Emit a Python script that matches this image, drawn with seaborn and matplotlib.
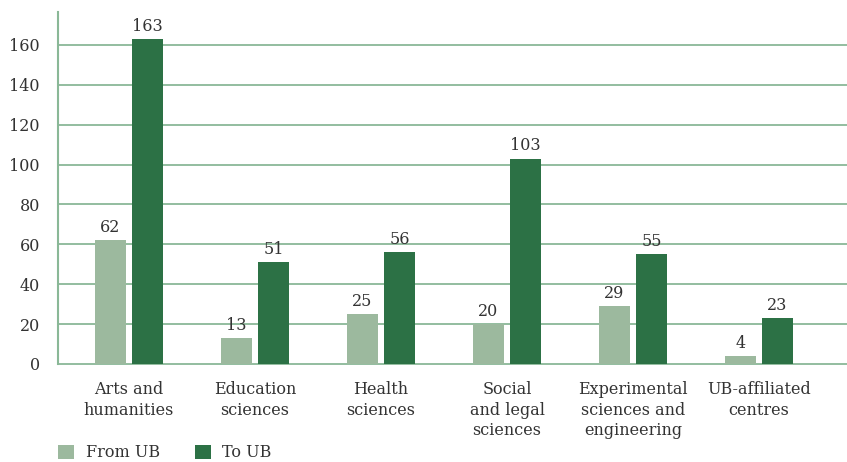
import pandas as pd
import numpy as np
from matplotlib import pyplot as plt
import seaborn as sns

# chart data
categories = ['Arts and\nhumanities', 'Education\nsciences', 'Health\nsciences',
              'Social\nand legal\nsciences', 'Experimental\nsciences and\nengineering',
              'UB-affiliated\ncentres']
from_ub = [62, 13, 25, 20, 29, 4]
to_ub = [163, 51, 56, 103, 55, 23]
series = ['From UB', 'To UB']
yticks = [0, 20, 40, 60, 80, 100, 120, 140, 160]

light = '#9cb99e'
dark = '#2c7145'
grid = '#8ab897'
text = '#333333'

sns.set_style('white')
plt.rcParams['font.family'] = ['DejaVu Serif']
plt.rcParams['font.size'] = 11.5

df = pd.DataFrame({
    'category': categories * 2,
    'value': from_ub + to_ub,
    'series': [series[0]] * len(categories) + [series[1]] * len(categories),
})

fig = plt.figure(figsize=(8.47, 4.62), dpi=100)
ax = fig.add_axes([58 / 847, 1 - 364 / 462, 1 - 58 / 847, 352 / 462])

sns.barplot(data=df, x='category', y='value', hue='series', order=categories,
            hue_order=series, palette=[light, dark], width=0.587, gap=0.16,
            saturation=1, linewidth=0, ax=ax, legend=True)

for c in ax.containers:
    ax.bar_label(c, padding=3, fontsize=11.5, color=text)

ax.set_ylim(0, 176.5)
ax.set_xlim(-0.563, 5.698)
ax.set_yticks(yticks)
ax.yaxis.grid(True, color=grid, linewidth=1.3)
ax.set_axisbelow(True)
for gl in ax.yaxis.get_gridlines():
    gl.set_clip_on(False)
ax.set_xlabel('')
ax.set_ylabel('')

for s in ['top', 'right', 'bottom']:
    ax.spines[s].set_visible(False)
ax.spines['left'].set_color(grid)
ax.spines['left'].set_linewidth(1.5)

ax.tick_params(axis='y', length=8, width=1.3, color=grid, pad=5, labelsize=11.5, labelcolor=text)
ax.tick_params(axis='x', length=0, pad=12, labelsize=11.5, labelcolor=text)
for lbl in ax.get_xticklabels():
    lbl.set_linespacing(1.3)

handles, labels = ax.get_legend_handles_labels()
ax.get_legend().remove()
fig.legend(handles, labels, loc='lower left', bbox_to_anchor=(44 / 847, -0.03), ncol=2,
           frameon=False, fontsize=11.5, labelcolor=text, handlelength=1.0,
           handleheight=1.0, handletextpad=0.7, columnspacing=2.2)

plt.savefig('out.png', dpi=100)
